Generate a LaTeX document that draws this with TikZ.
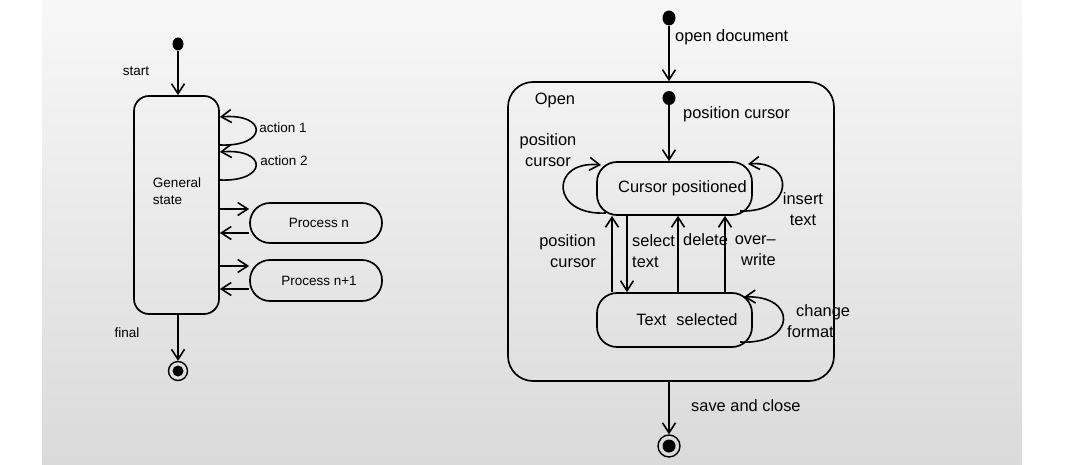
\documentclass[tikz,border=0pt]{standalone}
\usepackage{fontspec}
\setmainfont{Liberation Sans}
\usetikzlibrary{arrows.meta,shapes.geometric}
\newcommand\lfnt{\fontsize{13.5}{17}\selectfont}
\newcommand\rfnt{\fontsize{16.4}{21}\selectfont}
\begin{document}
\begin{tikzpicture}[x=1pt,y=-1pt,
  >={Straight Barb[length=10pt,width=13pt]},
  ln/.style={line width=1.6pt, ->},
  sbox/.style={draw, line width=1.7pt, inner sep=0pt, rounded corners=#1},
  dot/.style 2 args={ellipse, fill, inner sep=0pt, minimum width=#1, minimum height=#2},
  fin/.style 2 args={circle, draw, line width=1.4pt, inner sep=0pt, minimum size=#1,
    path picture={\fill (path picture bounding box.center) circle (#2);}},
  llab/.style={font=\lfnt, inner sep=0pt},
  rlab/.style={font=\rfnt, inner sep=0pt}
]
\useasboundingbox (0,0) rectangle (1066,465);
\shade[top color=black!3, bottom color=black!14.5] (42,0) rectangle (1022,465);

% ---------- left diagram ----------
\node[dot={11pt}{13pt}] (s1) at (178,44) {};
\node[sbox=15pt, minimum width=85pt, minimum height=218pt] (gs) at (176.5,205) {};
\node[llab, align=left] (gst) at (177,191.5) {General\\state};
\node[llab] (lstart) at (136,71) {start};
\node[llab] (lfinal) at (127,333) {final};
\node[fin={19pt}{5.5pt}] (f1) at (178,371) {};
\draw[ln] (s1) -- (gs.north -| s1);
\draw[ln] (gs.south -| f1) -- (f1);

\draw[ln] (gs.east |- 0,145) .. controls (268,147) and (268,113) .. (gs.east |- 0,117);
\draw[ln] (gs.east |- 0,180) .. controls (268,182) and (268,148) .. (gs.east |- 0,152);
\node[llab] (la1) at (283,128) {action 1};
\node[llab] (la2) at (284,161) {action 2};

\node[sbox=20pt, minimum width=132pt, minimum height=40pt, font=\lfnt] (pn) at (316,223) {\hspace*{6pt}Process n};
\node[sbox=20pt, minimum width=132pt, minimum height=41pt, font=\lfnt] (pn1) at (316,280.5) {\hspace*{6pt}Process n+1};
\draw[ln] (gs.east |- 0,209) -- (pn.west |- 0,209);
\draw[ln] (pn.west |- 0,233) -- (gs.east |- 0,233);
\draw[ln] (gs.east |- 0,266) -- (pn1.west |- 0,266);
\draw[ln] (pn1.west |- 0,289) -- (gs.east |- 0,289);

% ---------- right diagram ----------
\node[dot={13pt}{15pt}] (s2) at (669,18) {};
\node[sbox=25pt, minimum width=326pt, minimum height=299pt] (op) at (671,231.5) {};
\draw[ln] (s2) -- (op.north -| s2);
\node[rlab, anchor=west] (lod) at (675,37) {open document};
\node[rlab] (lopen) at (555,100) {Open};

\node[dot={13pt}{14pt}] (s3) at (669,98) {};
\node[sbox=20pt, minimum width=155pt, minimum height=53pt, font=\rfnt] (cp) at (674.5,188.5) {\hspace*{16pt}Cursor positioned};
\node[sbox=20pt, minimum width=155pt, minimum height=54pt, font=\rfnt] (ts) at (674.5,320) {\hspace*{25pt}Text\hspace{10pt}selected};
\draw[ln] (s3) -- (cp.north -| s3);
\node[rlab, anchor=west] (lpc) at (683,114) {position cursor};

% self loops
\draw[ln] (606,213) .. controls (550,216) and (550,160) .. (601,165);
\node[rlab, align=center] (lpc2) at (548,150.5) {position\\cursor};
\draw[ln] (740,211) .. controls (795,213) and (795,160) .. (748,164);
\node[rlab, align=center] (lit) at (803,209) {insert\\text};
\draw[ln] (740,342) .. controls (797,345) and (797,295) .. (744,297);
\node[rlab, align=left, anchor=west] (lcf) at (787,321) {\hspace*{9pt}change\\format};

% transitions between cursor positioned and text selected
\draw[ln] (ts.north -| 612,0) -- (cp.south -| 612,0);
\draw[ln] (cp.south -| 627,0) -- (ts.north -| 627,0);
\draw[ln] (ts.north -| 678,0) -- (cp.south -| 678,0);
\draw[ln] (ts.north -| 725,0) -- (cp.south -| 725,0);
\node[rlab, align=right, anchor=east] (lpc3) at (596,251) {position\\cursor};
\node[rlab, align=left, anchor=west] (lst) at (632,251) {select\\text};
\node[rlab, anchor=west] (ldel) at (683,240) {delete};
\node[rlab, align=right, anchor=east] (low) at (776,251) {over–\\write};

% final
\node[fin={22pt}{6.5pt}] (f2) at (669,446) {};
\draw[ln] (op.south -| f2) -- (f2);
\node[rlab, anchor=west] (lsc) at (691,406) {save and close};
\end{tikzpicture}
\end{document}
